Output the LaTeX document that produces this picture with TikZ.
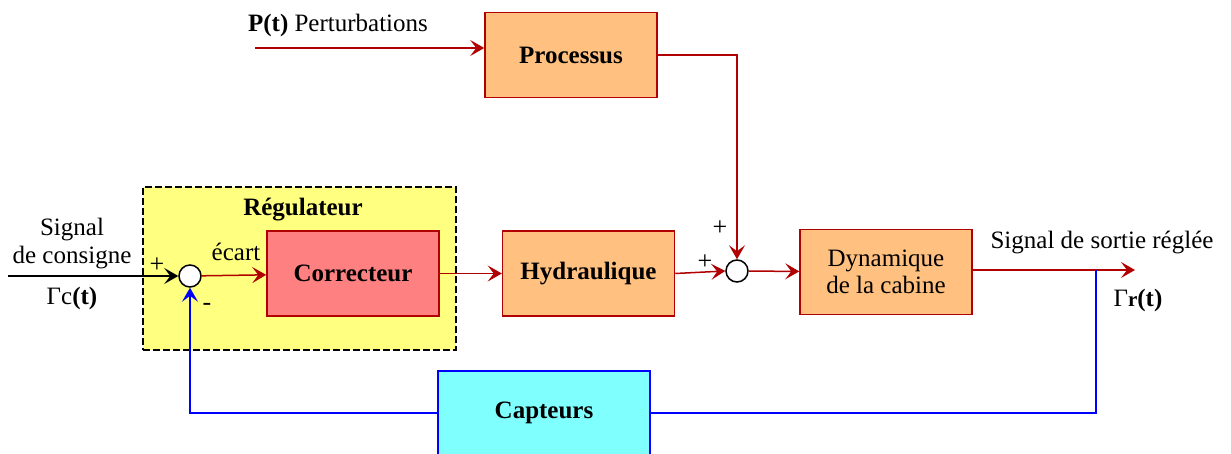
\documentclass[tikz,border=0pt]{standalone}
\usepackage{fontspec}
\setmainfont{Liberation Serif}
\usetikzlibrary{arrows.meta}

\definecolor{rouge}{HTML}{B00000}
\definecolor{orangebloc}{HTML}{FFC080}
\definecolor{jaune}{HTML}{FFFF80}
\definecolor{rose}{HTML}{FF8080}
\definecolor{cyan}{HTML}{80FFFF}

\tikzset{
	bloc/.style={draw=rouge, line width=1.5pt, fill=orangebloc, minimum width=172pt, minimum height=85pt, font=\fontsize{25}{30}\selectfont\bfseries},
	somme/.style={circle, draw, line width=1.5pt, fill=white, minimum size=22pt, inner sep=0pt},
	pointe/.style={-{Stealth[length=14pt, width=16pt, inset=6pt]}},
	fleche/.style={rouge, line width=1.5pt, pointe},
	retour/.style={blue, line width=1.2pt},
	signe/.style={font=\fontsize{26}{28}\selectfont},
}

\begin{document}
\begin{tikzpicture}[x=1pt, y=-1pt, font=\fontsize{25}{30}\selectfont]
				\clip (0,0) rectangle (1231,454);
				% Regulateur (zone en pointilles)
				\node[draw, fill=jaune, line width=2.4pt, dash pattern=on 7pt off 3pt, minimum width=313pt, minimum height=163pt] (regulateur) at (299.5,268.5) {};
				\node[font=\fontsize{25}{30}\selectfont\bfseries] (titre) at (303,210) {Régulateur};
				
				% Blocs
				\node[bloc] (processus) at (571,55) {Processus};
				\node[bloc, fill=rose] (correcteur) at (353,273.5) {Correcteur};
				\node[bloc] (hydraulique) at (588.5,273.5) {Hydraulique};
				\node[bloc, font=\fontsize{25}{27}\selectfont, align=center] (dynamique) at (886,272) {Dynamique\\de la cabine};
				\node[bloc, draw=blue, fill=cyan, minimum width=212pt, minimum height=84pt] (capteurs) at (544,413) {Capteurs};
				
				% Sommateurs
				\node[somme] (s1) at (190,276) {};
				\node[somme] (s2) at (737,271) {};
				
				% Extremites libres
				\coordinate (entree) at (8,276);
				\coordinate (pert) at (255,48);
				\coordinate (sortie) at (1135,270);
				\coordinate (derivation) at (1096,270);
				
				% Liaisons
				\draw[fleche, black, line width=2.5pt] (entree) -- (s1);
				\draw[fleche] (s1) -- (correcteur);
				\draw[fleche] (correcteur) -- (hydraulique);
				\draw[fleche] (hydraulique.east) -- (s2.west);
				\draw[fleche] (pert) -- (processus.west |- pert);
				\draw[fleche] (processus.east) -| (s2.north);
				\draw[fleche] (s2) -- (dynamique);
				\draw[fleche] (dynamique.east |- sortie) -- (sortie);
				
				% Boucle de retour
				\draw[retour] (derivation) |- (capteurs.east);
				\draw[retour, pointe] (capteurs.west) -| (s1.south);
				
				% Textes
				\node (signal) at (72,230) {Signal};
				\node (consigne) at (72,258) {de consigne};
				\node (gammac) at (72,298) {Γc{\bfseries(t)}};
				\node (pert-txt) at (338,25) {{\bfseries P(t)} Perturbations};
				\node (ecart) at (236,252) {écart};
				\node (sortie-txt) at (1102,243) {Signal de sortie réglée};
				\node (gammar) at (1138,300) {Γ{\bfseries\fontsize{21}{24}\selectfont r}{\bfseries(t)}};
				
				% Signes
				\node[signe] (p1) at (157,265) {+};
				\node[signe] (m1) at (207,307) {-};
				\node[signe] (p2) at (705,262) {+};
				\node[signe] (p3) at (720,228) {+};
				
			\end{tikzpicture}
\end{document}
